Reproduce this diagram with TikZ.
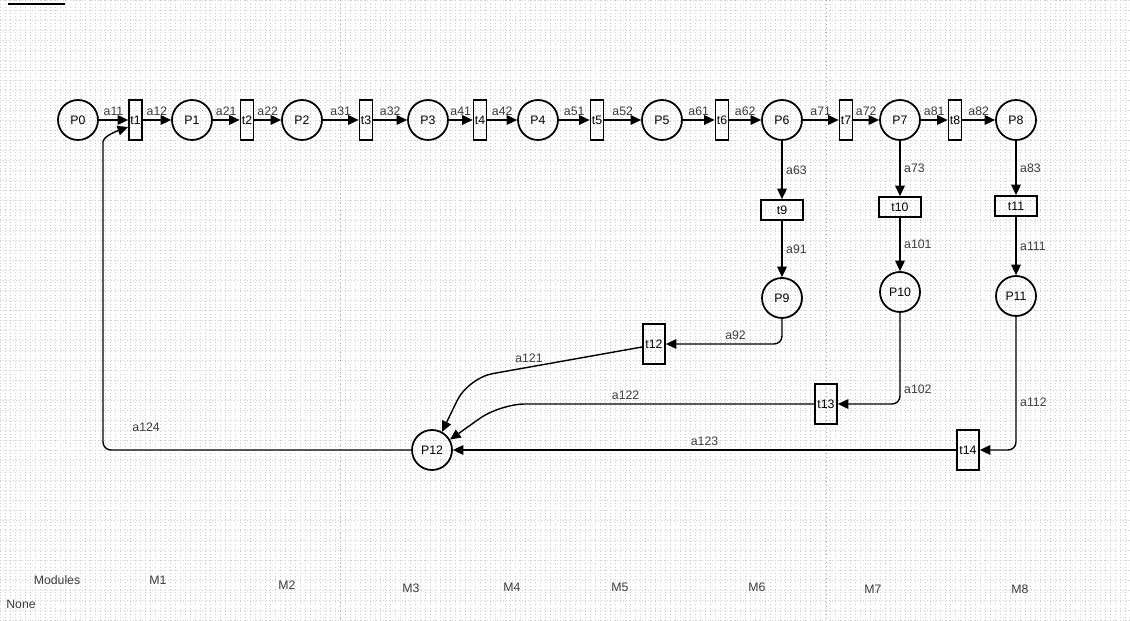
\documentclass[tikz,border=0pt]{standalone}
\usepackage{fontspec}
\setmainfont{Liberation Sans}
\usetikzlibrary{arrows.meta}
\definecolor{gridgray}{RGB}{205,205,205}
\definecolor{textgray}{RGB}{60,60,60}

\begin{document}
\begin{tikzpicture}[
    x=0.02cm, y=-0.02cm,
    font=\fontsize{7}{8}\selectfont,
    place/.style={circle, draw, line width=1pt, minimum size=0.8cm, inner sep=0pt},
    trans/.style={rectangle, draw, line width=1pt, minimum width=0.26cm, minimum height=0.8cm, inner sep=0pt},
    transh/.style={trans, minimum width=0.84cm, minimum height=0.4cm},
    transw/.style={trans, minimum width=0.44cm},
    flow/.style={-{Triangle[length=6pt, width=5.5pt]}, line width=0.8pt},
    lbl/.style={inner sep=2pt, text=textgray},
    modlbl/.style={inner sep=0pt, text=textgray}
]
    % Canvas
    \useasboundingbox (0,0) rectangle (1130,621);
    \fill[white] (0,0) rectangle (1130,621);
    \draw[gridgray, line width=0.2pt, dash pattern=on 0.4pt off 1.4pt] (0,0) grid[xstep=0.1cm, ystep=0.2cm] (1130,621);
    \draw[gray!70, line width=0.3pt, dotted] (340,0) -- (340,621);
    \draw[gray!70, line width=0.3pt, dotted] (826,0) -- (826,621);
    \draw[line width=0.8pt] (8,4) -- (65,4);

    % Places and transitions of the main line
    \node[place] (P0) at (78,120) {P0};
    \node[trans] (t1) at (135.5,120) {t1};
    \node[place] (P1) at (192,120) {P1};
    \node[trans] (t2) at (247,120) {t2};
    \node[place] (P2) at (302,120) {P2};
    \node[trans] (t3) at (366,120) {t3};
    \node[place] (P3) at (428,120) {P3};
    \node[trans] (t4) at (480,120) {t4};
    \node[place] (P4) at (538,120) {P4};
    \node[trans] (t5) at (597,120) {t5};
    \node[place] (P5) at (662,120) {P5};
    \node[trans] (t6) at (722,120) {t6};
    \node[place] (P6) at (782,120) {P6};
    \node[trans] (t7) at (846,120) {t7};
    \node[place] (P7) at (900,120) {P7};
    \node[trans] (t8) at (955,120) {t8};
    \node[place] (P8) at (1016,120) {P8};

    % Branches
    \node[transh] (t9) at (782,210) {t9};
    \node[transh] (t10) at (900,207) {t10};
    \node[transh] (t11) at (1016,206) {t11};
    \node[place] (P9) at (782,298) {P9};
    \node[place] (P10) at (900,292) {P10};
    \node[place] (P11) at (1016,296) {P11};
    \node[transw] (t12) at (654,344) {t12};
    \node[transw] (t13) at (826,404) {t13};
    \node[transw] (t14) at (968,450) {t14};
    \node[place] (P12) at (432,450) {P12};

    % Arcs of the main line
    \draw[flow] (P0) -- node[lbl, above] {a11} (t1);
    \draw[flow] (t1) -- node[lbl, above] {a12} (P1);
    \draw[flow] (P1) -- node[lbl, above] {a21} (t2);
    \draw[flow] (t2) -- node[lbl, above] {a22} (P2);
    \draw[flow] (P2) -- node[lbl, above] {a31} (t3);
    \draw[flow] (t3) -- node[lbl, above] {a32} (P3);
    \draw[flow] (P3) -- node[lbl, above] {a41} (t4);
    \draw[flow] (t4) -- node[lbl, above] {a42} (P4);
    \draw[flow] (P4) -- node[lbl, above] {a51} (t5);
    \draw[flow] (t5) -- node[lbl, above] {a52} (P5);
    \draw[flow] (P5) -- node[lbl, above] {a61} (t6);
    \draw[flow] (t6) -- node[lbl, above] {a62} (P6);
    \draw[flow] (P6) -- node[lbl, above] {a71} (t7);
    \draw[flow] (t7) -- node[lbl, above] {a72} (P7);
    \draw[flow] (P7) -- node[lbl, above] {a81} (t8);
    \draw[flow] (t8) -- node[lbl, above] {a82} (P8);

    % Arcs down the branches
    \draw[flow] (P6) -- node[lbl, right] {a63} (t9);
    \draw[flow] (P7) -- node[lbl, right] {a73} (t10);
    \draw[flow] (P8) -- node[lbl, right] {a83} (t11);
    \draw[flow] (t9) -- node[lbl, right] {a91} (P9);
    \draw[flow] (t10) -- node[lbl, right] {a101} (P10);
    \draw[flow] (t11) -- node[lbl, right] {a111} (P11);
    \draw[flow, rounded corners=0.16cm] (P9.south) |- node[lbl, above, pos=0.7] {a92} (t12.east);
    \draw[flow, rounded corners=0.16cm] (P10.south) |- node[lbl, right, pos=0.42] {a102} (t13.east);
    \draw[flow, rounded corners=0.16cm] (P11.south) |- node[lbl, right, pos=0.32] {a112} (t14.east);

    % Arcs into P12
    \draw[flow, rounded corners=0.5cm] ([yshift=-0.06cm]t12.west) -- node[lbl, above, pos=0.65] {a121} (468,378) -- (P12.61);
    \draw[flow, rounded corners=0.5cm] (t13.west) -- node[lbl, above, pos=0.6] {a122} (500,404) -- (P12.30);
    \draw[flow] (t14) -- node[lbl, above] {a123} (P12);

    % Return arc
    \draw[flow, rounded corners=0.16cm] (P12) -- node[lbl, above, pos=0.86, yshift=0.28cm] {a124} (103,450) -- (103,150) to[out=90, in=200] ([yshift=-0.14cm]t1.west);

    % Modules
    \node[modlbl] (mods) at (57,580) {Modules};
    \node[modlbl] (M1) at (158,580) {M1};
    \node[modlbl] (M2) at (287,585) {M2};
    \node[modlbl] (M3) at (411,588) {M3};
    \node[modlbl] (M4) at (512,587) {M4};
    \node[modlbl] (M5) at (620,587) {M5};
    \node[modlbl] (M6) at (757,587) {M6};
    \node[modlbl] (M7) at (873,589) {M7};
    \node[modlbl] (M8) at (1020,589) {M8};
    \node[modlbl] (none) at (21,604) {None};
\end{tikzpicture}
\end{document}
